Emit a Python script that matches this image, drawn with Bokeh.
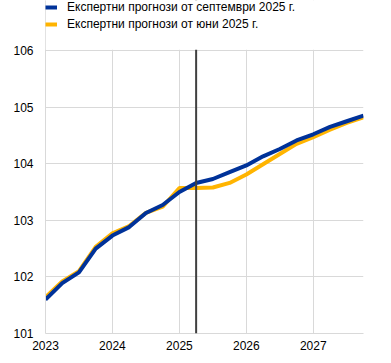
from bokeh.plotting import figure
from bokeh.models import Legend, LegendItem, Span, FixedTicker, Range1d, BoxAnnotation
from bokeh.embed import file_html
from bokeh.resources import INLINE

quarters = [2023.0, 2023.25, 2023.5, 2023.75,
            2024.0, 2024.25, 2024.5, 2024.75,
            2025.0, 2025.25, 2025.5, 2025.75,
            2026.0, 2026.25, 2026.5, 2026.75,
            2027.0, 2027.25, 2027.5, 2027.75]
sept_2025 = [101.60, 101.89, 102.08, 102.50,
             102.73, 102.88, 103.13, 103.27,
             103.50, 103.66, 103.73, 103.85,
             103.97, 104.13, 104.26, 104.41,
             104.52, 104.65, 104.75, 104.85]
june_2025 = [101.64, 101.92, 102.10, 102.53,
             102.77, 102.90, 103.13, 103.24,
             103.57, 103.57, 103.58, 103.66,
             103.81, 103.99, 104.17, 104.35,
             104.47, 104.60, 104.72, 104.82]
label_sept = "Експертни прогнози от септември 2025 г."
label_june = "Експертни прогнози от юни 2025 г."
x_ticks = [2023, 2024, 2025, 2026, 2027]
y_ticks = [101, 102, 103, 104, 105, 106]
cutoff = 2025.25

FONT = "Liberation Sans"
BLUE = "#003299"
YELLOW = "#FFB400"
GRID = "#d9d9d9"

# layout: frame spans the full height down to the x axis; the part above the
# last y tick is used for the legend (106 sits 50px from the top)
H = 363
BOTTOM = 30
FRAME_H = H - BOTTOM
PLOT_TOP_PX = 50
y0, y1 = y_ticks[0], y_ticks[-1]
y_end = y0 + (y1 - y0) * FRAME_H / (FRAME_H - PLOT_TOP_PX)

p = figure(width=391, height=H, output_backend="svg", toolbar_location=None,
           x_range=Range1d(2023, 2027.75), y_range=Range1d(y0, y_end),
           min_border_left=45, min_border_right=28, min_border_bottom=BOTTOM,
           min_border_top=0)
p.outline_line_color = None
p.background_fill_color = "white"
p.border_fill_color = "white"

r_june = p.line(quarters, june_2025, line_color=YELLOW, line_width=4)
r_sept = p.line(quarters, sept_2025, line_color=BLUE, line_width=4)

p.add_layout(Span(location=cutoff, dimension="height", line_color="#404040", line_width=2))
# mask everything above the top tick
p.add_layout(BoxAnnotation(bottom=y1 + 0.012, fill_color="white", fill_alpha=1,
                           line_color=None, level="annotation"))

for ax in (p.xaxis[0], p.yaxis[0]):
    ax.axis_line_color = GRID
    ax.axis_line_width = 1
    ax.major_tick_line_color = None
    ax.minor_tick_line_color = None
    ax.major_tick_out = 0
    ax.major_tick_in = 0
    ax.minor_tick_out = 0
    ax.minor_tick_in = 0
    ax.major_label_text_font = FONT
    ax.major_label_text_font_size = "12px"
    ax.major_label_text_color = "#000000"
p.xaxis[0].ticker = FixedTicker(ticks=x_ticks)
p.yaxis[0].ticker = FixedTicker(ticks=y_ticks)
p.xaxis[0].major_label_standoff = 7
p.yaxis[0].major_label_standoff = 12

p.xgrid[0].ticker = FixedTicker(ticks=x_ticks)
p.ygrid[0].ticker = FixedTicker(ticks=y_ticks)
p.xgrid.grid_line_color = GRID
p.ygrid.grid_line_color = GRID

legend = Legend(items=[LegendItem(label=label_sept, renderers=[r_sept]),
                       LegendItem(label=label_june, renderers=[r_june])],
                location=(0, FRAME_H - 4 - 27), orientation="vertical",
                glyph_width=12, glyph_height=12, label_height=12,
                label_standoff=10, spacing=3, padding=0, margin=0,
                label_text_font=FONT, label_text_font_size="12px",
                label_text_color="#000000",
                background_fill_alpha=0, border_line_color=None)
p.add_layout(legend, "center")

open("out.html", "w").write(file_html(p, INLINE))
